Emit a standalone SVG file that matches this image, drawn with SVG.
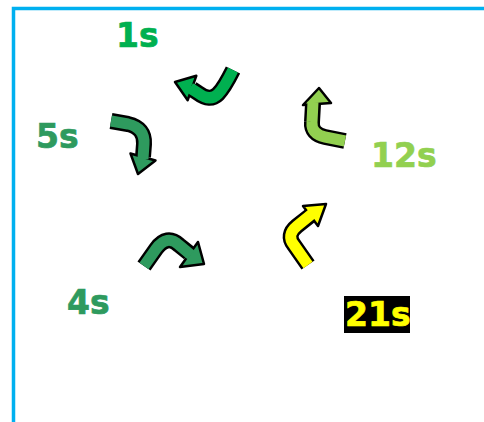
<svg xmlns="http://www.w3.org/2000/svg" width="484" height="422" viewBox="0 0 484 422">
<style>
.lbl{font-family:"DejaVu Sans","Liberation Sans",sans-serif;font-weight:bold;font-size:33px;stroke-width:0.7}
.out{fill:none;stroke:#000;stroke-width:16;stroke-linejoin:round}
.in{fill:none;stroke-width:11;stroke-linejoin:round}
.head{stroke:#000;stroke-width:2.5;stroke-linejoin:round}
</style>
<rect width="484" height="422" fill="#fff"/>
<g id="frame">
<path d="M13.5,422 V8.5 H484" fill="none" stroke="#00B0F0" stroke-width="3.5"/>
</g>
<g id="connectors">
<g id="arrow-1s">
<path class="out" d="M233,70 Q224,88 218,94 Q210,102 198,93 L192,89"/>
<polygon class="head" fill="#00B050" points="175,82 196.3,75.8 187.7,100.2"/>
<path class="in" stroke="#00B050" d="M233,70 Q224,88 218,94 Q210,102 198,93 L190,88"/>
</g>
<g id="arrow-5s">
<path class="out" d="M111,121 L128,124 Q145,128 144,144 L143,157"/>
<polygon class="head" fill="#2E9A5E" points="138,174 130.5,153.5 155.5,160.5"/>
<path class="in" stroke="#2E9A5E" d="M111,121 L128,124 Q145,128 144,144 L143,159"/>
</g>
<g id="arrow-4s">
<path class="out" d="M144,266 L156,249 Q167,234 179,245 L189,253"/>
<polygon class="head" fill="#2E9A5E" points="204,264 198,242 180,267"/>
<path class="in" stroke="#2E9A5E" d="M144,266 L156,249 Q167,234 179,245 L191,255"/>
</g>
<g id="arrow-12s">
<path class="out" d="M345,141 L325,137 Q311,134 312,122 L313,104"/>
<polygon class="head" fill="#92D050" points="319,88 303,105 331,103"/>
<path class="in" stroke="#92D050" d="M345,141 L325,137 Q311,134 312,122 L313,102"/>
</g>
<g id="arrow-21s">
<path class="out" d="M308,265 L294,245 Q286,235 297,226 L311,215"/>
<polygon class="head" fill="#FFFF00" points="326,204 303,206 318,226"/>
<path class="in" stroke="#FFFF00" d="M308,265 L294,245 Q286,235 297,226 L313,213"/>
</g>
</g>
<g id="node-1s"><text class="lbl" x="116" y="47" fill="#00B050" stroke="#00B050">1s</text></g>
<g id="node-5s"><text class="lbl" x="36" y="148" fill="#2E9A5E" stroke="#2E9A5E">5s</text></g>
<g id="node-4s"><text class="lbl" x="67" y="314" fill="#2E9A5E" stroke="#2E9A5E">4s</text></g>
<g id="node-12s"><text class="lbl" x="371" y="167" fill="#92D050" stroke="#92D050">12s</text></g>
<g id="node-21s">
<rect x="344" y="296" width="66" height="37" fill="#000"/>
<text class="lbl" x="345" y="326" fill="#FFFF00" stroke="#FFFF00">21s</text>
</g>
</svg>
